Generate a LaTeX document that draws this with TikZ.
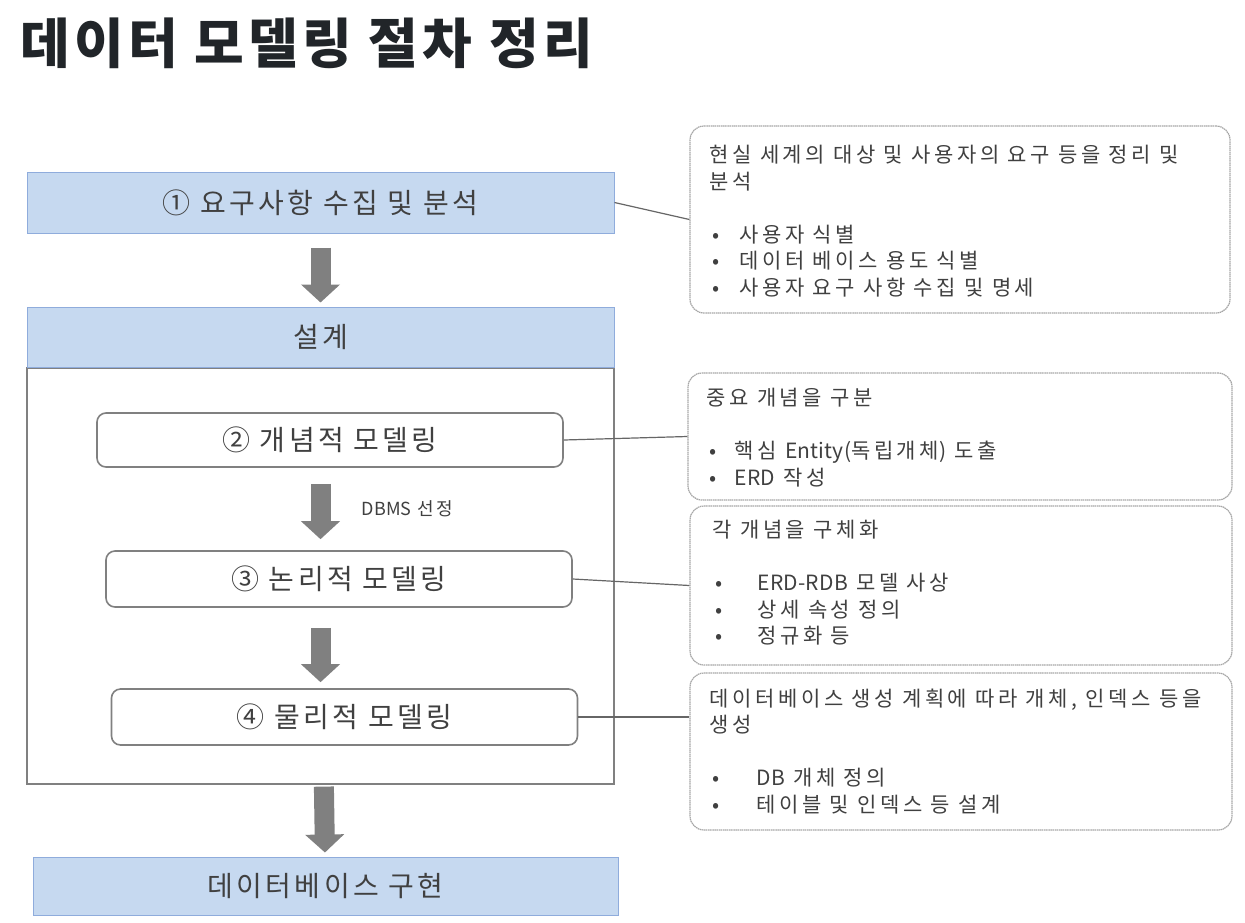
\documentclass[tikz,border=0pt]{standalone}
\usepackage{fontspec}
\setmainfont{Noto Sans CJK KR}
\usepackage{tikz}
\usetikzlibrary{arrows.meta,positioning}
\definecolor{BoxBlue}{RGB}{198,217,240}
\definecolor{BoxEdge}{RGB}{143,172,220}
\definecolor{ArrowGray}{RGB}{128,128,128}
\definecolor{TextGray}{RGB}{64,64,64}
\definecolor{TitleInk}{RGB}{33,37,41}
\newcommand{\notebullet}[1]{\makebox[#1][l]{\hspace{3pt}•}}
\newcommand{\latinword}[1]{{\addfontfeatures{LetterSpace=1}#1}}

\tikzset{
  phasebox/.style={draw=BoxEdge, line width=1pt, fill=BoxBlue,
    minimum width=587pt, minimum height=61pt, inner sep=0pt,
    text=TextGray, font=\fontsize{28}{32}\selectfont\addfontfeatures{LetterSpace=12}},
  stepbox/.style={draw=gray, line width=1.6pt, rounded corners=9pt, fill=white,
    minimum width=466pt, minimum height=55pt, inner sep=0pt,
    text=TextGray, font=\fontsize{28}{32}\selectfont\addfontfeatures{LetterSpace=12}},
  notebox/.style={draw=gray!70, line width=1.2pt, rounded corners=14pt,
    dash pattern=on 1.5pt off 0.6pt, inner sep=0pt},
  notetext/.style={align=left, inner sep=0pt, text=TextGray,
    font=\fontsize{21}{26.5}\selectfont\addfontfeatures{LetterSpace=17}},
  fatarrow/.style={draw=ArrowGray, line width=20pt,
    -{Triangle[length=18pt,width=38pt]}},
  link/.style={draw=gray!80!black, line width=1.2pt}
}

\begin{document}
\begin{tikzpicture}[x=1pt,y=-1pt]
  \useasboundingbox[fill=white] (0,0) rectangle (1245,922);

  % title
  \node[anchor=base west, inner sep=0pt, text=TitleInk,
    font=\fontsize{54}{60}\selectfont\bfseries\addfontfeatures{LetterSpace=8}] (title) at (20,63)
    {데이터 모델링 절차 정리};

  % left column
  \node[phasebox] (req) at (320.5,202.5) {① 요구사항 수집 및 분석};
  \node[draw=gray, line width=1.6pt, minimum width=587pt, minimum height=416pt,
    inner sep=0pt, anchor=north] (frame) at (320.5,367) {};
  \node[phasebox, minimum height=60pt] (design) at (320.5,337) {설계};
  \node[stepbox, minimum height=54pt] (concept) at (330,440) {② 개념적 모델링};
  \node[stepbox, minimum height=56pt] (logical) at (339,579) {③ 논리적 모델링};
  \node[stepbox, minimum height=56pt] (physical) at (344.5,717) {④ 물리적 모델링};
  \node[phasebox, minimum width=585pt, minimum height=58pt] (impl) at (325.5,886)
    {데이터베이스 구현};

  \draw[fatarrow, shorten <=14pt, shorten >=4pt] (req) -- (design);
  \draw[fatarrow, shorten <=16pt, shorten >=11pt] (concept.south -| frame) --
    node[right=41pt, inner sep=0pt, outer sep=0pt, text=TextGray,
      font=\fontsize{18}{20}\selectfont\addfontfeatures{LetterSpace=12}]
    (dbms) {\latinword{DBMS} 선정} (logical.north -| frame);
  \draw[fatarrow, shorten <=20pt, shorten >=6pt] (logical.south -| frame) -- (physical.north -| frame);
  \draw[fatarrow, shorten <=2pt, shorten >=4pt] (frame) -- (impl);

  % notes on the right
  \node[notebox, minimum width=540pt, minimum height=187pt] (note1) at (960,219.5) {};
  \node[notebox, minimum width=544pt, minimum height=127pt] (note2) at (960,436.5) {};
  \node[notebox, minimum width=542pt, minimum height=159pt] (note3) at (961,585.5) {};
  \node[notebox, minimum width=542pt, minimum height=157pt] (note4) at (961,751.5) {};

  \node[notetext, below right=20pt and 20pt of note1.north west] (text1)
    {현실 세계의 대상 및 사용자의 요구 등을 정리 및\\
     분석\\[26.5pt]
     \notebullet{30pt}사용자 식별\\
     \notebullet{30pt}데이터 베이스 용도 식별\\
     \notebullet{30pt}사용자 요구 사항 수집 및 명세};
  \node[notetext, below right=16pt and 19pt of note2.north west] (text2)
    {중요 개념을 구분\\[26.5pt]
     \notebullet{28pt}핵심 \latinword{Entity(}독립개체\latinword{)} 도출\\
     \notebullet{28pt}\latinword{ERD} 작성};
  \node[notetext, below right=15pt and 23pt of note3.north west] (text3)
    {각 개념을 구체화\\[26.5pt]
     \notebullet{45pt}\latinword{ERD-RDB} 모델 사상\\
     \notebullet{45pt}상세 속성 정의\\
     \notebullet{45pt}정규화 등};
  \node[notetext, below right=16pt and 20pt of note4.north west] (text4)
    {데이터베이스 생성 계획에 따라 개체, 인덱스 등을\\
     생성\\[26.5pt]
     \notebullet{47pt}\latinword{DB} 개체 정의\\
     \notebullet{47pt}테이블 및 인덱스 등 설계};

  \draw[link] (req.east) -- (note1.west);
  \draw[link] (concept.east) -- (note2.west);
  \draw[link] (logical.east) -- (note3.west);
  \draw[link] (physical.east) -- (physical.east -| note4.west);
\end{tikzpicture}
\end{document}
